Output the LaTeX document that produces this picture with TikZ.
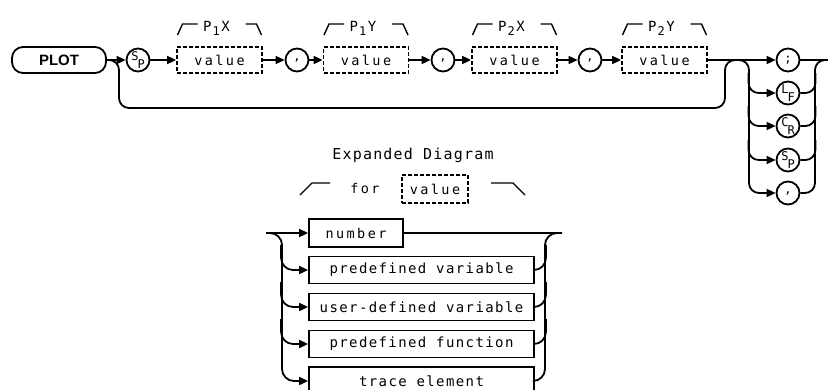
\documentclass[tikz,border=0pt]{standalone}
\usepackage{fontspec}
\newfontfamily\hpf[LetterSpace=10]{DejaVu Sans Mono}
\newfontfamily\hpv[LetterSpace=18]{DejaVu Sans Mono}
\newfontfamily\hpe[LetterSpace=8]{DejaVu Sans Mono}
\newfontfamily\hpl[LetterSpace=6]{DejaVu Sans Mono}
\newfontfamily\plotf{Liberation Sans}
\usetikzlibrary{arrows.meta,calc}
\newcommand\mysub[2]{\raisebox{3.5pt}{#1}\kern-1pt\raisebox{-4pt}{#2}}
\tikzset{
 ln/.style={line width=1.8pt},
 arr/.style={ln, -{Triangle[length=9pt,width=8pt]}},
 valbox/.style={draw, ln, dash pattern=on 4pt off 2pt, minimum width=85pt, minimum height=26pt, inner sep=0pt, font=\hpv\fontsize{13.5}{14}\selectfont},
 solidbox/.style={draw, ln, minimum width=225pt, minimum height=27pt, inner sep=0pt, font=\hpf\fontsize{14}{14}\selectfont},
 circ/.style={draw, ln, circle, minimum size=23pt, inner sep=0pt, font=\hpl\fontsize{12}{12}\selectfont},
 lbl/.style={inner sep=0pt, font=\hpl\fontsize{14}{14}\selectfont},
 brk/.style={line width=1.4pt},
}
\begin{document}
\begin{tikzpicture}[x=1pt,y=-1pt]
\useasboundingbox (0,0) rectangle (828,389);
\clip (0,0) rectangle (828,389);
% main row
\node[draw, ln, rounded corners=11pt, minimum width=94pt, minimum height=26pt, inner sep=0pt,
      font=\plotf\bfseries\fontsize{15}{15}\selectfont] (plot) at (59,60) {PLOT};
\node[circ] (sp) at (138,60) {\mysub{S}{P}};
\node[valbox] (v1) at (219.5,60) {value};
\node[circ] (c1) at (297,60) {,};
\node[valbox] (v2) at (366,60) {value};
\node[circ] (c2) at (443,60) {,};
\node[valbox] (v3) at (514.5,60) {value};
\node[circ] (c3) at (590,60) {,};
\node[valbox] (v4) at (664.5,60) {value};
% labels
\foreach \cx/\n/\a/\b in {219.5/l1/1/X, 366/l2/1/Y, 514.5/l3/2/X, 664.5/l4/2/Y}{
  \node[lbl, anchor=base] (\n) at (\cx-3,31) {P\kern1pt\raisebox{-4.5pt}{\fontsize{12}{12}\selectfont\a}\kern1.5pt\b};
  \draw[brk] (\cx-42,35) -- (\cx-37,24) -- (\cx-22,24);
  \draw[brk] (\cx+26,24) -- (\cx+37,24) -- (\cx+42,35);
}
\draw[arr] (plot) -- (sp);
\draw[arr] (sp) -- (v1);
\draw[arr] (v1) -- (c1);
\draw[arr] (c1) -- (v2);
\draw[arr] (v2) -- (c2);
\draw[arr] (c2) -- (v3);
\draw[arr] (v3) -- (c3);
\draw[arr] (c3) -- (v4);
% terminators
\node[circ] (t1) at (788,60) {;};
\node[circ] (t2) at (788,93) {\mysub{L}{F}};
\node[circ] (t3) at (788,126) {\mysub{C}{R}};
\node[circ] (t4) at (788,160) {\mysub{S}{P}};
\node[circ] (t5) at (788,193) {,};
\draw[arr] (v4) -- (t1);
\coordinate (tout) at (828,60);
\draw[ln] (t1) -- (tout);
% bypass and left rail
\draw[arr, rounded corners=10pt] (plot.east) -- (119,60) -- (119,108) -- (725,108) -- (725,60) -- (749,60) -- (749,193) -- (t5.west);
\foreach \t in {t2,t3,t4}{
  \draw[arr, rounded corners=10pt] ($(\t.west)+(-27,-20)$) |- (\t.west);
}
% right rail
\draw[ln, rounded corners=10pt] (t5.east) -| (815,60) -- (tout);
\foreach \t in {t2,t3,t4}{
  \draw[ln, rounded corners=10pt] (\t.east) -| ($(\t.east)+(15,-20)$);
}
% expanded diagram
\node[inner sep=0pt, font=\hpe\fontsize{15}{15}\selectfont] (exp) at (413,155) {Expanded Diagram};
\node[inner sep=0pt, font=\hpv\fontsize{13.5}{14}\selectfont] (for) at (365,188) {for};
\node[valbox, minimum width=66pt, minimum height=28pt] (vexp) at (435,189) {value};
\draw[brk] (300,195) -- (312,183) -- (330,183);
\draw[brk] (491,183) -- (513,183) -- (525,195);
\node[solidbox, minimum width=94pt, minimum height=28pt, font=\hpv\fontsize{13.5}{14}\selectfont] (nb) at (356,233) {number};
\node[solidbox] (pv) at (421.5,270) {predefined variable};
\node[solidbox] (ud) at (421.5,307) {user-defined variable};
\node[solidbox] (pf) at (421.5,344) {predefined function};
\node[solidbox, minimum height=28pt] (te) at (421.5,381) {trace element};
\coordinate (lin) at (266,233);
\coordinate (rout) at (562,233);
\draw[arr] (lin) -- (nb);
\draw[arr, rounded corners=12pt] (lin) -- (282,233) -- (282,381) -- (te.west);
\foreach \b in {pv,ud,pf}{
  \draw[arr, rounded corners=12pt] ($(\b.west)+(-27,-25)$) |- (\b.west);
  \draw[ln, rounded corners=12pt] (\b.east) -| ($(\b.east)+(11,-25)$);
}
\draw[ln] (nb) -- (rout);
\draw[ln, rounded corners=12pt] (te.east) -| (545,233) -- (rout);
\end{tikzpicture}
\end{document}
